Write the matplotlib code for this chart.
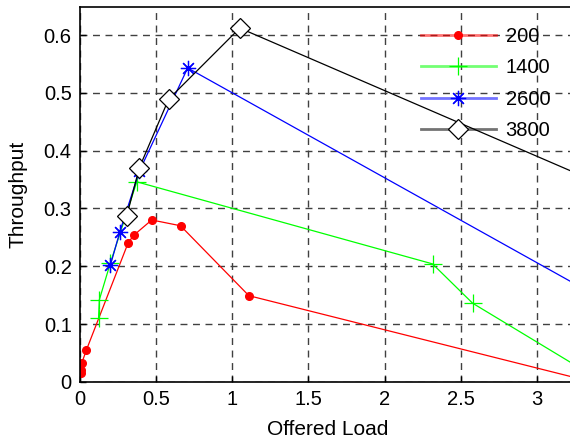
import matplotlib
matplotlib.use("Agg")
import matplotlib.pyplot as plt
from matplotlib.colors import to_rgba

plt.rcParams['font.family'] = ['Liberation Sans', 'DejaVu Sans']

# Offered load / throughput for each series
load_200 = [0.007, 0.008, 0.011, 0.042, 0.317, 0.355, 0.471, 0.660, 1.109, 3.36]
thr_200 = [0.016, 0.021, 0.032, 0.055, 0.241, 0.254, 0.280, 0.270, 0.149, 0.0]

load_1400 = [0.122, 0.127, 0.200, 0.373, 2.315, 2.578, 3.42]
thr_1400 = [0.111, 0.142, 0.206, 0.346, 0.204, 0.136, 0.002]

load_2600 = [0.200, 0.262, 0.389, 0.707, 3.60]
thr_2600 = [0.202, 0.260, 0.364, 0.543, 0.118]

load_3800 = [0.307, 0.389, 0.582, 1.049, 3.60]
thr_3800 = [0.287, 0.370, 0.489, 0.612, 0.322]

labels = ['200', '1400', '2600', '3800']
xticks = [0, 0.5, 1, 1.5, 2, 2.5, 3]
xticklabels = ['0', '0.5', '1', '1.5', '2', '2.5', '3']
yticks = [0, 0.1, 0.2, 0.3, 0.4, 0.5, 0.6]
yticklabels = ['0', '0.1', '0.2', '0.3', '0.4', '0.5', '0.6']

fig = plt.figure(figsize=(5.70, 4.43), dpi=100)
ax = fig.add_axes([80 / 570, 1 - 381.8 / 443, 1 - 80 / 570 + 0.01, (381.8 - 6.7) / 443])

colors = ['#ff0000', '#00ff00', '#0000ff', '#000000']
ax.plot(load_200, thr_200, color=colors[0], lw=0.9, marker='.', ms=11, label=labels[0])
ax.plot(load_1400, thr_1400, color=colors[1], lw=0.9, marker='+', ms=13, mew=0.9, label=labels[1])
ax.plot(load_2600, thr_2600, color=colors[2], lw=0.9, marker=(8, 2, 0), ms=11, mew=0.9, label=labels[2])
ax.plot(load_3800, thr_3800, color=colors[3], lw=0.9, marker='D', ms=10, mfc='white', mew=0.9, label=labels[3])

ax.set_xlim(0, 3.255)
ax.set_ylim(0, 0.649)
ax.set_xticks(xticks)
ax.set_xticklabels(xticklabels)
ax.set_yticks(yticks)
ax.set_yticklabels(yticklabels)
ax.tick_params(direction='in', length=4, width=1, labelsize=14.5, pad=6)
ax.grid(True, color='#404040', linestyle=(0, (5, 4)), linewidth=1.0)
ax.set_axisbelow(True)
for s in ['left', 'bottom', 'top']:
    ax.spines[s].set_linewidth(1.2)
ax.spines['right'].set_visible(False)

ax.set_xlabel('Offered Load', fontsize=15, labelpad=8)
ax.set_ylabel('Throughput', fontsize=15, labelpad=12)

leg = ax.legend(loc='upper left', bbox_to_anchor=(421 / 570, 1 - 27 / 443),
                bbox_transform=fig.transFigure,
                frameon=False, fontsize=14.5, handlelength=3.7, handletextpad=0.5,
                labelspacing=0.62, borderaxespad=0, borderpad=0)
for h, c in zip(leg.legend_handles, colors):
    h.set_linewidth(2.0)
    h.set_color(to_rgba(c, 0.55))
    h.set_markeredgecolor(c)
    if c == '#000000':
        h.set_markerfacecolor('white')
    else:
        h.set_markerfacecolor(c)

fig.savefig('out.png', dpi=100)
